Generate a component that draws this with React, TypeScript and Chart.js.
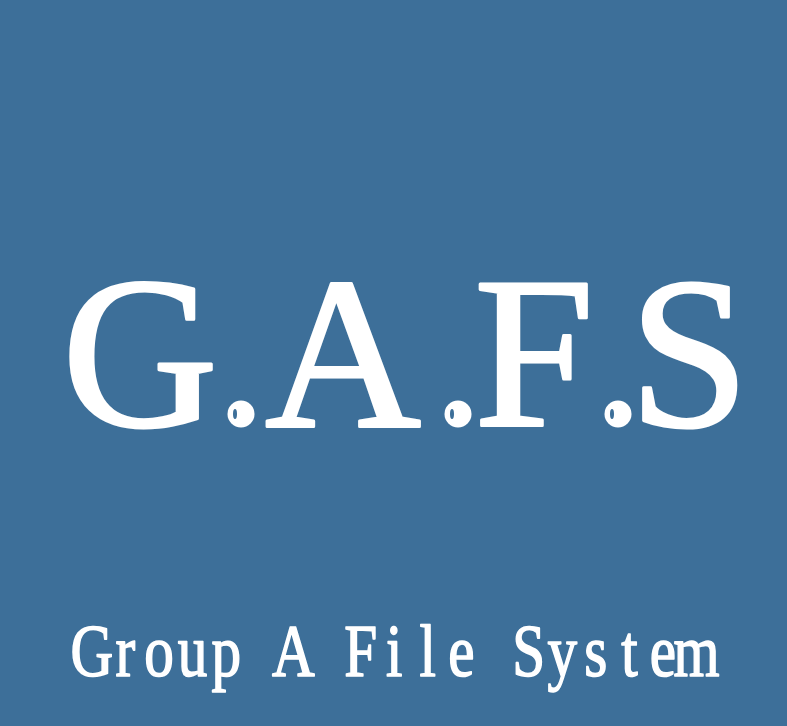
import { useEffect, useRef } from "react"
import { Chart, registerables, Plugin } from "chart.js"

Chart.register(...registerables)

// logo text
const titleChars = ["G", ".", "A", ".", "F", ".", "S"]
const subtitleChars = "Group A File System".split("")

// layout (page pixels, 787 x 726 canvas)
const titleCenters = [140, 241, 343, 458, 534, 618, 689]
const titleBaseline = 427
const subtitleLeft = 75
const subtitlePitch = 33.6
const subtitleBaseline = 677

const bgColor = "rgb(61, 111, 153)"

const logoPlugin: Plugin = {
  id: "logo",
  beforeDraw(chart) {
    const { ctx, width, height } = chart
    ctx.save()
    ctx.fillStyle = bgColor
    ctx.fillRect(0, 0, width, height)
    ctx.restore()
  },
  afterDraw(chart) {
    const ctx = chart.ctx
    ctx.save()
    ctx.fillStyle = "#ffffff"
    ctx.strokeStyle = "#ffffff"
    ctx.lineJoin = "round"
    ctx.textAlign = "center"
    ctx.textBaseline = "alphabetic"

    // big serif letters
    ctx.font = "216px 'Liberation Serif', serif"
    ctx.lineWidth = 3
    titleChars.forEach((ch, i) => {
      if (ch === ".") {
        ctx.beginPath()
        ctx.arc(titleCenters[i], titleBaseline - 13, 13.5, 0, Math.PI * 2)
        ctx.fill()
        // small inline mark like the reference
        ctx.fillStyle = bgColor
        ctx.beginPath()
        ctx.ellipse(titleCenters[i] - 6, titleBaseline - 13, 2, 5, 0, 0, Math.PI * 2)
        ctx.fill()
        ctx.fillStyle = "#ffffff"
      } else {
        ctx.fillText(ch, titleCenters[i], titleBaseline - 1)
        ctx.strokeText(ch, titleCenters[i], titleBaseline - 1)
      }
    })

    // condensed fixed-pitch subtitle
    ctx.font = "74px 'Liberation Serif', serif"
    ctx.lineWidth = 1.6
    subtitleChars.forEach((ch, i) => {
      if (ch === " ") return
      const cx = subtitleLeft + subtitlePitch * i + subtitlePitch / 2
      ctx.save()
      ctx.translate(cx, subtitleBaseline)
      ctx.scale(0.8, 1)
      ctx.fillText(ch, 0, -1)
      ctx.strokeText(ch, 0, -1)
      ctx.restore()
    })
    ctx.restore()
  },
}

export default function App() {
  const chartRef = useRef<HTMLCanvasElement>(null)
  const chartInstance = useRef<Chart | null>(null)

  useEffect(() => {
    if (!chartRef.current) return
    if (chartInstance.current) chartInstance.current.destroy()

    chartInstance.current = new Chart(chartRef.current, {
      type: "scatter",
      data: { datasets: [] },
      options: {
        responsive: true,
        maintainAspectRatio: false,
        animation: false,
        layout: { padding: 0 },
        scales: {
          x: { display: false },
          y: { display: false },
        },
        plugins: {
          legend: { display: false },
          tooltip: { enabled: false },
        },
      },
      plugins: [logoPlugin],
    })

    return () => {
      if (chartInstance.current) {
        chartInstance.current.destroy()
        chartInstance.current = null
      }
    }
  }, [])

  return (
    <div style={{ position: "fixed", left: 0, top: 0, width: 787, height: 726 }}>
      <canvas ref={chartRef}></canvas>
    </div>
  )
}
